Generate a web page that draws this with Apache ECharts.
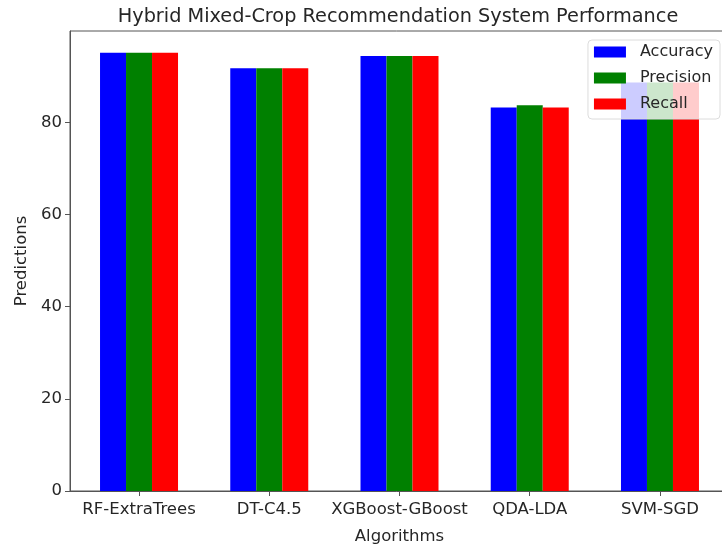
<!DOCTYPE html>
<html lang="en">
<head>
    <meta charset="UTF-8">
    <title>Hybrid Mixed-Crop Recommendation System Performance</title>
    <script src="https://cdn.jsdelivr.net/npm/echarts@6/dist/echarts.min.js"></script>
    <style>
        body {
            margin: 0;
            background-color: #fff;
        }
        #chart {
            width: 722px;
            height: 548px;
        }
    </style>
</head>
<body>
<div id="chart"></div>

<script>
    // data
    const algorithms = ['RF-ExtraTrees', 'DT-C4.5', 'XGBoost-GBoost', 'QDA-LDA', 'SVM-SGD'];
    const accuracy = [95.1, 91.7, 94.4, 83.2, 88.6];
    const precision = [95.1, 91.7, 94.4, 83.7, 88.6];
    const recall = [95.1, 91.7, 94.4, 83.2, 88.6];
    const yTicks = [0, 20, 40, 60, 80];
    const groupPos = algorithms.map((_, i) => i); // group centres on the x axis

    const font = 'DejaVu Sans';
    const textColor = '#262626';
    const lineColor = '#555';

    const chart = echarts.init(document.getElementById('chart'));

    function barSeries(name, values, color) {
        return {
            name: name,
            type: 'bar',
            data: groupPos.map((x, i) => [x, values[i]]),
            barWidth: 26,
            barGap: '0%',
            itemStyle: { color: color }
        };
    }

    const option = {
        animation: false,
        title: {
            text: 'Hybrid Mixed-Crop Recommendation System Performance',
            left: 393,
            textAlign: 'center',
            top: 2,
            textStyle: {
                fontFamily: font,
                fontSize: 19.3,
                fontWeight: 'normal',
                color: textColor
            }
        },
        legend: {
            orient: 'vertical',
            right: 2,
            top: 40,
            icon: 'rect',
            itemWidth: 32,
            itemHeight: 11,
            itemGap: 10,
            padding: [4, 7, 7, 6],
            backgroundColor: 'rgba(255,255,255,0.8)',
            borderColor: '#dcdcdc',
            borderWidth: 1,
            borderRadius: 4,
            textStyle: {
                fontFamily: font,
                fontSize: 16,
                color: textColor,
                padding: [0, 0, 0, 9]
            },
            data: ['Accuracy', 'Precision', 'Recall']
        },
        grid: {
            left: 70,
            top: 31,
            height: 460,
            width: 659,
            outerBoundsMode: 'none',
            show: true,
            borderColor: lineColor,
            borderWidth: 1
        },
        xAxis: {
            type: 'value',
            min: -0.53,
            max: 4.53,
            name: 'Algorithms',
            nameLocation: 'middle',
            nameGap: 37,
            nameTextStyle: { fontFamily: font, fontSize: 16.5, color: textColor },
            splitLine: { show: false },
            axisLine: { onZero: false, lineStyle: { color: lineColor, width: 1 } },
            axisTick: { customValues: groupPos, length: 5, lineStyle: { color: lineColor } },
            axisLabel: {
                customValues: groupPos,
                formatter: (v) => algorithms[Math.round(v)],
                margin: 10,
                fontFamily: font,
                fontSize: 16.5,
                color: textColor
            }
        },
        yAxis: {
            type: 'value',
            min: yTicks[0],
            max: 99.8,
            interval: yTicks[1] - yTicks[0],
            name: 'Predictions',
            nameLocation: 'middle',
            nameGap: 33,
            nameTextStyle: { fontFamily: font, fontSize: 16.5, color: textColor },
            splitLine: { show: false },
            axisLine: { show: true, onZero: false, lineStyle: { color: lineColor, width: 1 } },
            axisTick: { show: true, length: 5, lineStyle: { color: lineColor } },
            axisLabel: { showMaxLabel: false, margin: 8, fontFamily: font, fontSize: 16.5, color: textColor }
        },
        series: [
            barSeries('Accuracy', accuracy, '#0000ff'),
            barSeries('Precision', precision, '#008000'),
            barSeries('Recall', recall, '#ff0000')
        ]
    };

    chart.setOption(option);
</script>
</body>
</html>
